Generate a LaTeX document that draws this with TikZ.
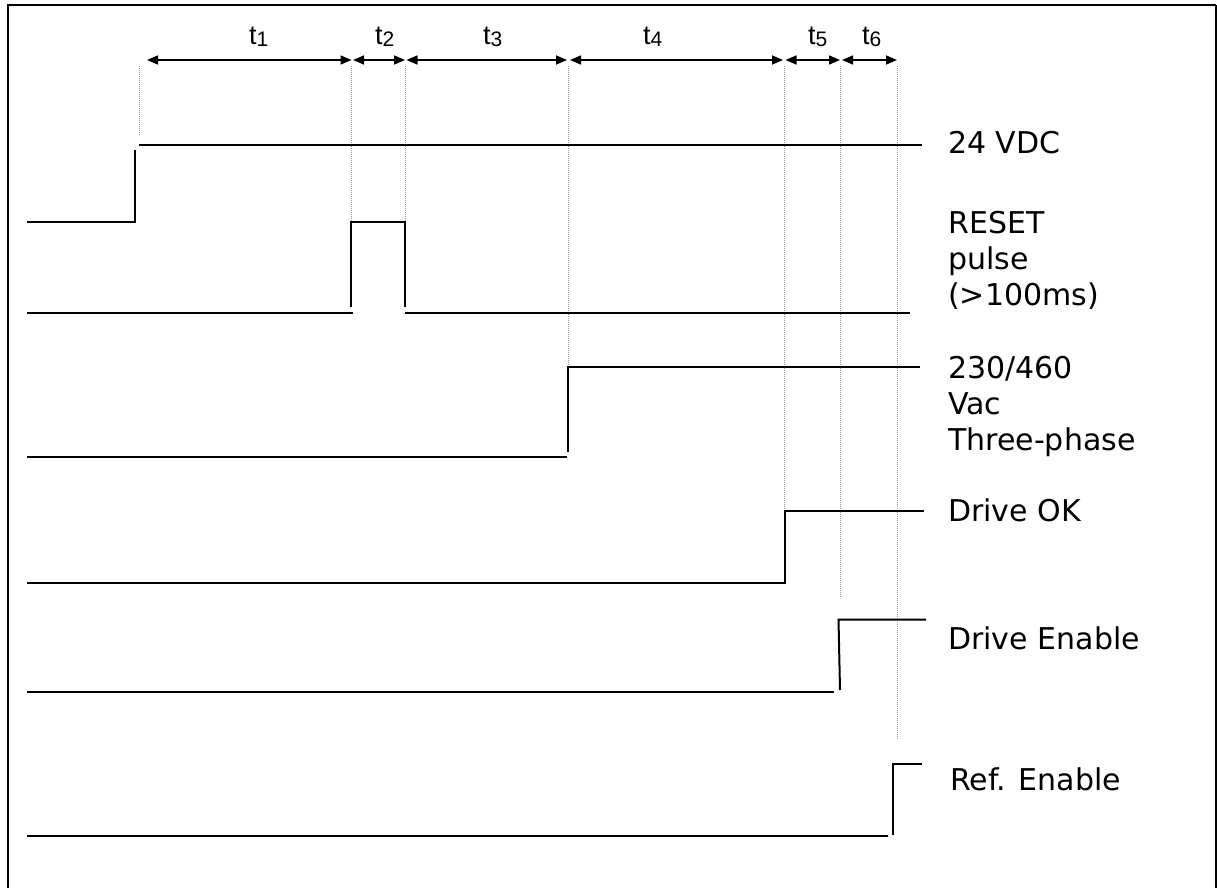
\documentclass[tikz,border=0pt]{standalone}
\usepackage{fontspec}
\setmainfont{DejaVu Sans}
\newfontfamily\arialfont{Liberation Sans}
\usetikzlibrary{arrows.meta}
\newcommand{\tlab}[1]{{\arialfont\fontsize{27}{27}\selectfont t\raisebox{-2pt}{\fontsize{21}{21}\selectfont #1}}}
\begin{document}
\begin{tikzpicture}[x=1pt,y=-1pt,
  frame/.style={line width=2pt, black},
  sig/.style={line width=2pt, black},
  guide/.style={line width=1pt, gray!80, dash pattern=on 1pt off 1pt},
  dim/.style={line width=1.6pt, {Triangle[length=11pt,width=9pt]}-{Triangle[length=11pt,width=9pt]}},
  tl/.style={anchor=base west, inner sep=0pt},
  lab/.style={anchor=base west, inner sep=0pt, align=left, font=\fontsize{30}{36}\selectfont}]
\useasboundingbox (0,0) rectangle (1217,888);
% frame
\draw[frame] (8,888) -- (8,5.5) -- (1216,5.5);
\draw[line width=1.6pt] (1216,5.5) -- (1216,888);
% time marks
\coordinate (a0) at (147,60);
\coordinate (a1) at (352,60);
\coordinate (a2) at (405,60);
\coordinate (a3) at (568,60);
\coordinate (a4) at (784,60);
\coordinate (a5) at (840,60);
\coordinate (a6) at (897,60);
\draw[dim, shorten >=0.5pt] (a0) -- (a1);
\draw[dim, shorten <=1pt] (a1) -- (a2);
\draw[dim, shorten <=1.5pt, shorten >=1pt] (a2) -- (a3);
\draw[dim, shorten <=2pt, shorten >=1pt] (a3) -- (a4);
\draw[dim, shorten <=1.5pt] (a4) -- (a5);
\draw[dim, shorten <=2pt] (a5) -- (a6);
\node[tl] (t1) at (249,45) {\tlab{1}};
\node[tl] (t2) at (375,45) {\tlab{2}};
\node[tl] (t3) at (483,45) {\tlab{3}};
\node[tl] (t4) at (643,45) {\tlab{4}};
\node[tl] (t5) at (808,45) {\tlab{5}};
\node[tl] (t6) at (862,45) {\tlab{6}};
% dotted guides
\draw[guide] (139,66) -- (139,135);
\draw[guide] (351,66) -- (351,222);
\draw[guide] (405,66) -- (405,222);
\draw[guide] (568,66) -- (568,366);
\draw[guide] (784,66) -- (784,511);
\draw[guide] (840,66) -- (840,598);
\draw[guide] (897,66) -- (897,740);
% 24 VDC
\draw[sig] (27,222) -- (134.5,222) -- (134.5,150);
\draw[sig] (138.5,144.5) -- (922,144.5);
\node[lab] (v24) at (948,153) {24 VDC};
% RESET pulse
\draw[sig] (27,312.5) -- (352.5,312.5);
\draw[sig] (351,307) -- (351,222) -- (405,222) -- (405,307);
\draw[sig] (405,313) -- (910,313);
\node[lab] (reset) at (948,305) {RESET\\pulse\\(>100ms)};
% 230/460 Vac
\draw[sig] (27,457) -- (567,457);
\draw[sig] (568,452) -- (568,366.5) -- (920,366.5);
\node[lab] (vac) at (948,450) {230/460\\Vac\\Three-phase};
% Drive OK
\draw[sig] (27,583) -- (784.5,583) -- (784.5,511) -- (924,511);
\node[lab] (dok) at (948,521) {Drive OK};
% Drive Enable
\draw[sig] (27,692) -- (834,692);
\draw[sig] (840,690) -- (838.5,619.5) -- (926,619.5);
\node[lab] (den) at (948,649) {Drive Enable};
% Ref. Enable
\draw[sig] (27,835.5) -- (888,835.5);
\draw[sig] (893,835) -- (893,763.5) -- (922,763.5);
\node[lab] (ren) at (950,790) {Ref. Enable};
\end{tikzpicture}
\end{document}
